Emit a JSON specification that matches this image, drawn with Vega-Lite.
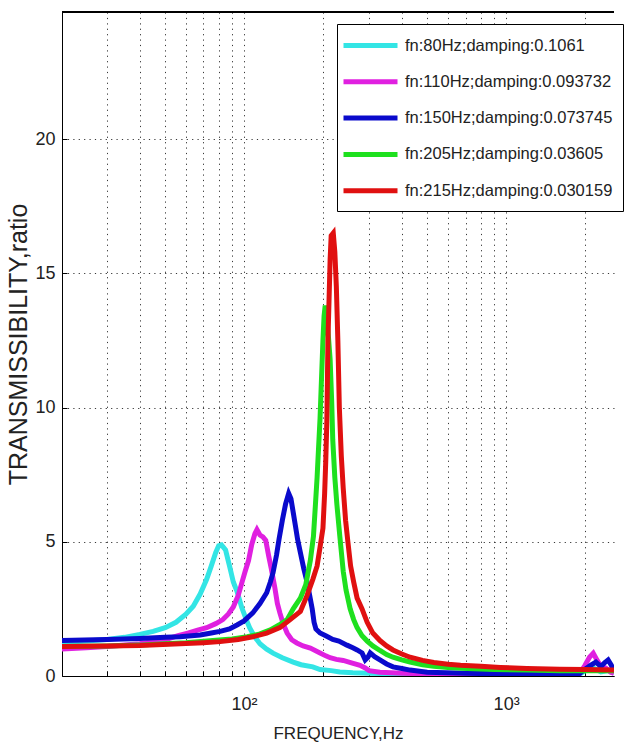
{
  "$schema": "https://vega.github.io/schema/vega-lite/v6.json",
  "autosize": {"type": "none"},
  "padding": {"left": 62, "top": 12, "right": 10, "bottom": 73},
  "width": 552,
  "height": 664,
  "background": "white",
  "config": {
    "view": {"stroke": null},
    "font": "Liberation Sans",
    "axis": {
      "domainColor": "#000", "domainWidth": 1,
      "tickColor": "#000", "tickSize": -5,
      "gridColor": "#222", "gridDash": [1.2, 4.2], "gridWidth": 1, "gridOpacity": 0.9,
      "labelFont": "Liberation Sans", "labelFontSize": 18, "labelColor": "#222",
      "titleFont": "Liberation Sans", "titleFontSize": 17, "titleColor": "#222", "titleFontWeight": "normal"
    },
    "legend": {
      "orient": "none", "legendX": 275, "legendY": 12,
      "strokeColor": "#000", "fillColor": "white", "padding": 10, "cornerRadius": 0,
      "symbolType": "M-3,0H3", "symbolSize": 324, "symbolStrokeWidth": 5, "symbolOffset": 12,
      "labelFont": "Liberation Sans", "labelFontSize": 16.5, "labelColor": "#222",
      "labelOffset": 23, "rowPadding": 14.3, "labelLimit": 400
    }
  },
  "data": {"values": [
    {"s":"fn:80Hz;damping:0.1061","f":20,"t":1.25},{"s":"fn:80Hz;damping:0.1061","f":25,"t":1.3},{"s":"fn:80Hz;damping:0.1061","f":30,"t":1.36},{"s":"fn:80Hz;damping:0.1061","f":35,"t":1.44},{"s":"fn:80Hz;damping:0.1061","f":40,"t":1.55},{"s":"fn:80Hz;damping:0.1061","f":45,"t":1.66},{"s":"fn:80Hz;damping:0.1061","f":50,"t":1.8},{"s":"fn:80Hz;damping:0.1061","f":55,"t":2.0},{"s":"fn:80Hz;damping:0.1061","f":60,"t":2.3},{"s":"fn:80Hz;damping:0.1061","f":64,"t":2.6},{"s":"fn:80Hz;damping:0.1061","f":68,"t":3.05},{"s":"fn:80Hz;damping:0.1061","f":72,"t":3.6},{"s":"fn:80Hz;damping:0.1061","f":75,"t":4.1},{"s":"fn:80Hz;damping:0.1061","f":78,"t":4.6},{"s":"fn:80Hz;damping:0.1061","f":80,"t":4.85},{"s":"fn:80Hz;damping:0.1061","f":82,"t":4.88},{"s":"fn:80Hz;damping:0.1061","f":85,"t":4.7},{"s":"fn:80Hz;damping:0.1061","f":88,"t":4.1},{"s":"fn:80Hz;damping:0.1061","f":91,"t":3.5},{"s":"fn:80Hz;damping:0.1061","f":94,"t":3.15},{"s":"fn:80Hz;damping:0.1061","f":98,"t":2.55},{"s":"fn:80Hz;damping:0.1061","f":102,"t":2.1},{"s":"fn:80Hz;damping:0.1061","f":105,"t":1.8},{"s":"fn:80Hz;damping:0.1061","f":110,"t":1.45},{"s":"fn:80Hz;damping:0.1061","f":115,"t":1.2},{"s":"fn:80Hz;damping:0.1061","f":122,"t":1.0},{"s":"fn:80Hz;damping:0.1061","f":129,"t":0.85},{"s":"fn:80Hz;damping:0.1061","f":140,"t":0.68},{"s":"fn:80Hz;damping:0.1061","f":154,"t":0.52},{"s":"fn:80Hz;damping:0.1061","f":165,"t":0.42},{"s":"fn:80Hz;damping:0.1061","f":183,"t":0.34},{"s":"fn:80Hz;damping:0.1061","f":195,"t":0.24},{"s":"fn:80Hz;damping:0.1061","f":215,"t":0.2},{"s":"fn:80Hz;damping:0.1061","f":232,"t":0.15},{"s":"fn:80Hz;damping:0.1061","f":260,"t":0.12},{"s":"fn:80Hz;damping:0.1061","f":300,"t":0.1},{"s":"fn:80Hz;damping:0.1061","f":400,"t":0.08},{"s":"fn:80Hz;damping:0.1061","f":600,"t":0.06},{"s":"fn:80Hz;damping:0.1061","f":1000,"t":0.05},{"s":"fn:80Hz;damping:0.1061","f":1900,"t":0.05},{"s":"fn:80Hz;damping:0.1061","f":2000,"t":0.2},{"s":"fn:80Hz;damping:0.1061","f":2150,"t":0.3},{"s":"fn:80Hz;damping:0.1061","f":2300,"t":0.15},{"s":"fn:80Hz;damping:0.1061","f":2450,"t":0.2},{"s":"fn:80Hz;damping:0.1061","f":2580,"t":0.1},
    {"s":"fn:110Hz;damping:0.093732","f":20,"t":1.0},{"s":"fn:110Hz;damping:0.093732","f":25,"t":1.05},{"s":"fn:110Hz;damping:0.093732","f":30,"t":1.1},{"s":"fn:110Hz;damping:0.093732","f":40,"t":1.2},{"s":"fn:110Hz;damping:0.093732","f":50,"t":1.35},{"s":"fn:110Hz;damping:0.093732","f":56,"t":1.5},{"s":"fn:110Hz;damping:0.093732","f":61,"t":1.6},{"s":"fn:110Hz;damping:0.093732","f":66,"t":1.7},{"s":"fn:110Hz;damping:0.093732","f":72,"t":1.8},{"s":"fn:110Hz;damping:0.093732","f":78,"t":1.95},{"s":"fn:110Hz;damping:0.093732","f":83,"t":2.1},{"s":"fn:110Hz;damping:0.093732","f":87,"t":2.3},{"s":"fn:110Hz;damping:0.093732","f":91,"t":2.57},{"s":"fn:110Hz;damping:0.093732","f":95,"t":3.0},{"s":"fn:110Hz;damping:0.093732","f":98,"t":3.46},{"s":"fn:110Hz;damping:0.093732","f":101,"t":3.9},{"s":"fn:110Hz;damping:0.093732","f":104,"t":4.3},{"s":"fn:110Hz;damping:0.093732","f":107,"t":4.9},{"s":"fn:110Hz;damping:0.093732","f":110,"t":5.3},{"s":"fn:110Hz;damping:0.093732","f":112,"t":5.45},{"s":"fn:110Hz;damping:0.093732","f":115,"t":5.25},{"s":"fn:110Hz;damping:0.093732","f":118,"t":5.18},{"s":"fn:110Hz;damping:0.093732","f":121,"t":5.05},{"s":"fn:110Hz;damping:0.093732","f":124,"t":4.5},{"s":"fn:110Hz;damping:0.093732","f":127,"t":4.0},{"s":"fn:110Hz;damping:0.093732","f":131,"t":3.3},{"s":"fn:110Hz;damping:0.093732","f":134,"t":2.7},{"s":"fn:110Hz;damping:0.093732","f":137,"t":2.35},{"s":"fn:110Hz;damping:0.093732","f":141,"t":1.95},{"s":"fn:110Hz;damping:0.093732","f":146,"t":1.6},{"s":"fn:110Hz;damping:0.093732","f":152,"t":1.35},{"s":"fn:110Hz;damping:0.093732","f":159,"t":1.23},{"s":"fn:110Hz;damping:0.093732","f":168,"t":1.12},{"s":"fn:110Hz;damping:0.093732","f":179,"t":1.04},{"s":"fn:110Hz;damping:0.093732","f":195,"t":0.86},{"s":"fn:110Hz;damping:0.093732","f":205,"t":0.75},{"s":"fn:110Hz;damping:0.093732","f":213,"t":0.68},{"s":"fn:110Hz;damping:0.093732","f":225,"t":0.62},{"s":"fn:110Hz;damping:0.093732","f":239,"t":0.58},{"s":"fn:110Hz;damping:0.093732","f":255,"t":0.5},{"s":"fn:110Hz;damping:0.093732","f":277,"t":0.4},{"s":"fn:110Hz;damping:0.093732","f":290,"t":0.3},{"s":"fn:110Hz;damping:0.093732","f":300,"t":0.2},{"s":"fn:110Hz;damping:0.093732","f":330,"t":0.14},{"s":"fn:110Hz;damping:0.093732","f":400,"t":0.1},{"s":"fn:110Hz;damping:0.093732","f":600,"t":0.07},{"s":"fn:110Hz;damping:0.093732","f":1000,"t":0.06},{"s":"fn:110Hz;damping:0.093732","f":1900,"t":0.06},{"s":"fn:110Hz;damping:0.093732","f":2000,"t":0.4},{"s":"fn:110Hz;damping:0.093732","f":2080,"t":0.7},{"s":"fn:110Hz;damping:0.093732","f":2150,"t":0.85},{"s":"fn:110Hz;damping:0.093732","f":2220,"t":0.6},{"s":"fn:110Hz;damping:0.093732","f":2300,"t":0.35},{"s":"fn:110Hz;damping:0.093732","f":2400,"t":0.3},{"s":"fn:110Hz;damping:0.093732","f":2500,"t":0.15},{"s":"fn:110Hz;damping:0.093732","f":2580,"t":0.1},
    {"s":"fn:150Hz;damping:0.073745","f":20,"t":1.32},{"s":"fn:150Hz;damping:0.073745","f":30,"t":1.36},{"s":"fn:150Hz;damping:0.073745","f":40,"t":1.4},{"s":"fn:150Hz;damping:0.073745","f":50,"t":1.44},{"s":"fn:150Hz;damping:0.073745","f":57,"t":1.46},{"s":"fn:150Hz;damping:0.073745","f":68,"t":1.53},{"s":"fn:150Hz;damping:0.073745","f":75,"t":1.6},{"s":"fn:150Hz;damping:0.073745","f":81,"t":1.66},{"s":"fn:150Hz;damping:0.073745","f":88,"t":1.75},{"s":"fn:150Hz;damping:0.073745","f":94,"t":1.9},{"s":"fn:150Hz;damping:0.073745","f":100,"t":2.05},{"s":"fn:150Hz;damping:0.073745","f":108,"t":2.35},{"s":"fn:150Hz;damping:0.073745","f":115,"t":2.7},{"s":"fn:150Hz;damping:0.073745","f":122,"t":3.1},{"s":"fn:150Hz;damping:0.073745","f":126,"t":3.5},{"s":"fn:150Hz;damping:0.073745","f":129,"t":3.85},{"s":"fn:150Hz;damping:0.073745","f":133,"t":4.5},{"s":"fn:150Hz;damping:0.073745","f":136,"t":5.1},{"s":"fn:150Hz;damping:0.073745","f":140,"t":5.8},{"s":"fn:150Hz;damping:0.073745","f":144,"t":6.4},{"s":"fn:150Hz;damping:0.073745","f":148,"t":6.8},{"s":"fn:150Hz;damping:0.073745","f":151,"t":6.6},{"s":"fn:150Hz;damping:0.073745","f":154,"t":6.1},{"s":"fn:150Hz;damping:0.073745","f":157,"t":5.6},{"s":"fn:150Hz;damping:0.073745","f":160,"t":5.1},{"s":"fn:150Hz;damping:0.073745","f":164,"t":4.6},{"s":"fn:150Hz;damping:0.073745","f":169,"t":4.0},{"s":"fn:150Hz;damping:0.073745","f":174,"t":3.5},{"s":"fn:150Hz;damping:0.073745","f":178,"t":3.0},{"s":"fn:150Hz;damping:0.073745","f":182,"t":2.5},{"s":"fn:150Hz;damping:0.073745","f":185,"t":2.0},{"s":"fn:150Hz;damping:0.073745","f":188,"t":1.75},{"s":"fn:150Hz;damping:0.073745","f":195,"t":1.6},{"s":"fn:150Hz;damping:0.073745","f":205,"t":1.5},{"s":"fn:150Hz;damping:0.073745","f":218,"t":1.36},{"s":"fn:150Hz;damping:0.073745","f":230,"t":1.3},{"s":"fn:150Hz;damping:0.073745","f":247,"t":1.15},{"s":"fn:150Hz;damping:0.073745","f":260,"t":1.05},{"s":"fn:150Hz;damping:0.073745","f":270,"t":0.97},{"s":"fn:150Hz;damping:0.073745","f":282,"t":0.86},{"s":"fn:150Hz;damping:0.073745","f":290,"t":0.6},{"s":"fn:150Hz;damping:0.073745","f":297,"t":0.7},{"s":"fn:150Hz;damping:0.073745","f":303,"t":0.86},{"s":"fn:150Hz;damping:0.073745","f":315,"t":0.72},{"s":"fn:150Hz;damping:0.073745","f":330,"t":0.6},{"s":"fn:150Hz;damping:0.073745","f":350,"t":0.45},{"s":"fn:150Hz;damping:0.073745","f":370,"t":0.34},{"s":"fn:150Hz;damping:0.073745","f":400,"t":0.28},{"s":"fn:150Hz;damping:0.073745","f":430,"t":0.22},{"s":"fn:150Hz;damping:0.073745","f":500,"t":0.14},{"s":"fn:150Hz;damping:0.073745","f":700,"t":0.1},{"s":"fn:150Hz;damping:0.073745","f":1000,"t":0.08},{"s":"fn:150Hz;damping:0.073745","f":1900,"t":0.08},{"s":"fn:150Hz;damping:0.073745","f":2000,"t":0.25},{"s":"fn:150Hz;damping:0.073745","f":2100,"t":0.4},{"s":"fn:150Hz;damping:0.073745","f":2200,"t":0.52},{"s":"fn:150Hz;damping:0.073745","f":2300,"t":0.35},{"s":"fn:150Hz;damping:0.073745","f":2380,"t":0.5},{"s":"fn:150Hz;damping:0.073745","f":2450,"t":0.6},{"s":"fn:150Hz;damping:0.073745","f":2520,"t":0.4},{"s":"fn:150Hz;damping:0.073745","f":2580,"t":0.2},
    {"s":"fn:205Hz;damping:0.03605","f":20,"t":1.1},{"s":"fn:205Hz;damping:0.03605","f":30,"t":1.12},{"s":"fn:205Hz;damping:0.03605","f":40,"t":1.15},{"s":"fn:205Hz;damping:0.03605","f":50,"t":1.2},{"s":"fn:205Hz;damping:0.03605","f":60,"t":1.24},{"s":"fn:205Hz;damping:0.03605","f":76,"t":1.32},{"s":"fn:205Hz;damping:0.03605","f":90,"t":1.38},{"s":"fn:205Hz;damping:0.03605","f":103,"t":1.46},{"s":"fn:205Hz;damping:0.03605","f":115,"t":1.57},{"s":"fn:205Hz;damping:0.03605","f":126,"t":1.72},{"s":"fn:205Hz;damping:0.03605","f":136,"t":1.9},{"s":"fn:205Hz;damping:0.03605","f":146,"t":2.1},{"s":"fn:205Hz;damping:0.03605","f":154,"t":2.5},{"s":"fn:205Hz;damping:0.03605","f":164,"t":2.9},{"s":"fn:205Hz;damping:0.03605","f":172,"t":3.4},{"s":"fn:205Hz;damping:0.03605","f":179,"t":4.3},{"s":"fn:205Hz;damping:0.03605","f":184,"t":5.2},{"s":"fn:205Hz;damping:0.03605","f":187,"t":6.3},{"s":"fn:205Hz;damping:0.03605","f":190,"t":7.4},{"s":"fn:205Hz;damping:0.03605","f":192,"t":8.3},{"s":"fn:205Hz;damping:0.03605","f":195,"t":9.6},{"s":"fn:205Hz;damping:0.03605","f":197,"t":10.8},{"s":"fn:205Hz;damping:0.03605","f":200,"t":12.5},{"s":"fn:205Hz;damping:0.03605","f":202,"t":13.4},{"s":"fn:205Hz;damping:0.03605","f":204,"t":13.8},{"s":"fn:205Hz;damping:0.03605","f":207,"t":13.3},{"s":"fn:205Hz;damping:0.03605","f":210,"t":12.6},{"s":"fn:205Hz;damping:0.03605","f":213,"t":11.8},{"s":"fn:205Hz;damping:0.03605","f":216,"t":10.2},{"s":"fn:205Hz;damping:0.03605","f":218,"t":8.8},{"s":"fn:205Hz;damping:0.03605","f":222,"t":7.4},{"s":"fn:205Hz;damping:0.03605","f":226,"t":6.4},{"s":"fn:205Hz;damping:0.03605","f":232,"t":5.2},{"s":"fn:205Hz;damping:0.03605","f":239,"t":3.9},{"s":"fn:205Hz;damping:0.03605","f":245,"t":3.2},{"s":"fn:205Hz;damping:0.03605","f":254,"t":2.5},{"s":"fn:205Hz;damping:0.03605","f":262,"t":2.1},{"s":"fn:205Hz;damping:0.03605","f":270,"t":1.8},{"s":"fn:205Hz;damping:0.03605","f":282,"t":1.5},{"s":"fn:205Hz;damping:0.03605","f":295,"t":1.3},{"s":"fn:205Hz;damping:0.03605","f":310,"t":1.12},{"s":"fn:205Hz;damping:0.03605","f":330,"t":0.95},{"s":"fn:205Hz;damping:0.03605","f":350,"t":0.8},{"s":"fn:205Hz;damping:0.03605","f":370,"t":0.7},{"s":"fn:205Hz;damping:0.03605","f":400,"t":0.6},{"s":"fn:205Hz;damping:0.03605","f":430,"t":0.52},{"s":"fn:205Hz;damping:0.03605","f":480,"t":0.42},{"s":"fn:205Hz;damping:0.03605","f":530,"t":0.36},{"s":"fn:205Hz;damping:0.03605","f":600,"t":0.32},{"s":"fn:205Hz;damping:0.03605","f":710,"t":0.28},{"s":"fn:205Hz;damping:0.03605","f":900,"t":0.24},{"s":"fn:205Hz;damping:0.03605","f":1200,"t":0.22},{"s":"fn:205Hz;damping:0.03605","f":1600,"t":0.2},{"s":"fn:205Hz;damping:0.03605","f":2000,"t":0.2},{"s":"fn:205Hz;damping:0.03605","f":2580,"t":0.2},
    {"s":"fn:215Hz;damping:0.030159","f":20,"t":1.1},{"s":"fn:215Hz;damping:0.030159","f":30,"t":1.12},{"s":"fn:215Hz;damping:0.030159","f":40,"t":1.14},{"s":"fn:215Hz;damping:0.030159","f":57,"t":1.2},{"s":"fn:215Hz;damping:0.030159","f":70,"t":1.24},{"s":"fn:215Hz;damping:0.030159","f":81,"t":1.28},{"s":"fn:215Hz;damping:0.030159","f":95,"t":1.36},{"s":"fn:215Hz;damping:0.030159","f":108,"t":1.46},{"s":"fn:215Hz;damping:0.030159","f":122,"t":1.6},{"s":"fn:215Hz;damping:0.030159","f":137,"t":1.8},{"s":"fn:215Hz;damping:0.030159","f":150,"t":2.1},{"s":"fn:215Hz;damping:0.030159","f":164,"t":2.4},{"s":"fn:215Hz;damping:0.030159","f":174,"t":3.0},{"s":"fn:215Hz;damping:0.030159","f":183,"t":3.6},{"s":"fn:215Hz;damping:0.030159","f":190,"t":4.1},{"s":"fn:215Hz;damping:0.030159","f":195,"t":4.8},{"s":"fn:215Hz;damping:0.030159","f":200,"t":5.5},{"s":"fn:215Hz;damping:0.030159","f":203,"t":6.8},{"s":"fn:215Hz;damping:0.030159","f":205,"t":8.0},{"s":"fn:215Hz;damping:0.030159","f":207,"t":9.5},{"s":"fn:215Hz;damping:0.030159","f":208,"t":11.0},{"s":"fn:215Hz;damping:0.030159","f":209,"t":12.5},{"s":"fn:215Hz;damping:0.030159","f":211,"t":14.0},{"s":"fn:215Hz;damping:0.030159","f":213,"t":15.5},{"s":"fn:215Hz;damping:0.030159","f":215,"t":16.4},{"s":"fn:215Hz;damping:0.030159","f":219,"t":16.5},{"s":"fn:215Hz;damping:0.030159","f":222,"t":15.8},{"s":"fn:215Hz;damping:0.030159","f":225,"t":14.5},{"s":"fn:215Hz;damping:0.030159","f":228,"t":12.5},{"s":"fn:215Hz;damping:0.030159","f":231,"t":10.0},{"s":"fn:215Hz;damping:0.030159","f":235,"t":8.2},{"s":"fn:215Hz;damping:0.030159","f":239,"t":7.0},{"s":"fn:215Hz;damping:0.030159","f":244,"t":5.8},{"s":"fn:215Hz;damping:0.030159","f":249,"t":5.0},{"s":"fn:215Hz;damping:0.030159","f":255,"t":4.1},{"s":"fn:215Hz;damping:0.030159","f":262,"t":3.5},{"s":"fn:215Hz;damping:0.030159","f":270,"t":2.9},{"s":"fn:215Hz;damping:0.030159","f":282,"t":2.5},{"s":"fn:215Hz;damping:0.030159","f":295,"t":2.0},{"s":"fn:215Hz;damping:0.030159","f":310,"t":1.6},{"s":"fn:215Hz;damping:0.030159","f":330,"t":1.32},{"s":"fn:215Hz;damping:0.030159","f":350,"t":1.12},{"s":"fn:215Hz;damping:0.030159","f":370,"t":0.97},{"s":"fn:215Hz;damping:0.030159","f":400,"t":0.82},{"s":"fn:215Hz;damping:0.030159","f":430,"t":0.7},{"s":"fn:215Hz;damping:0.030159","f":480,"t":0.58},{"s":"fn:215Hz;damping:0.030159","f":530,"t":0.5},{"s":"fn:215Hz;damping:0.030159","f":600,"t":0.44},{"s":"fn:215Hz;damping:0.030159","f":670,"t":0.4},{"s":"fn:215Hz;damping:0.030159","f":800,"t":0.36},{"s":"fn:215Hz;damping:0.030159","f":950,"t":0.32},{"s":"fn:215Hz;damping:0.030159","f":1200,"t":0.28},{"s":"fn:215Hz;damping:0.030159","f":1600,"t":0.25},{"s":"fn:215Hz;damping:0.030159","f":2000,"t":0.24},{"s":"fn:215Hz;damping:0.030159","f":2580,"t":0.22}
  ]},
  "layer": [
    {
      "mark": {"type": "line", "strokeWidth": 5, "clip": true},
      "encoding": {
        "x": {"field": "f", "type": "quantitative",
          "scale": {"type": "log", "domain": [20.2, 2580], "nice": false},
          "axis": {"values": [20,30,40,50,60,70,80,90,100,200,300,400,500,600,700,800,900,1000,2000],
            "labelExpr": "datum.value == 100 ? '10²' : datum.value == 1000 ? '10³' : ''",
            "labelPadding": 24, "labelBaseline": "top", "labelFlush": false,
            "title": "FREQUENCY,Hz", "titleX": 276, "titleY": 57, "titleBaseline": "middle", "titleAlign": "center"}},
        "y": {"field": "t", "type": "quantitative",
          "scale": {"domain": [0, 24.73], "nice": false},
          "axis": {"values": [0,5,10,15,20], "labelPadding": 12,
            "title": "TRANSMISSIBILITY,ratio", "titleFontSize": 25,
            "titleX": -44, "titleY": 332, "titleAngle": 270, "titleBaseline": "middle", "titleAlign": "center"}},
        "color": {"field": "s", "type": "nominal",
          "scale": {"domain": ["fn:80Hz;damping:0.1061","fn:110Hz;damping:0.093732","fn:150Hz;damping:0.073745","fn:205Hz;damping:0.03605","fn:215Hz;damping:0.030159"],
                    "range": ["#33E5E5","#E020E0","#0A0ACC","#1EE01E","#E01010"]},
          "legend": {"title": null}}
      }
    },
    {
      "mark": {"type": "rule", "color": "#000", "strokeWidth": 1},
      "encoding": {"y": {"datum": 24.73}}
    }
  ]
}
